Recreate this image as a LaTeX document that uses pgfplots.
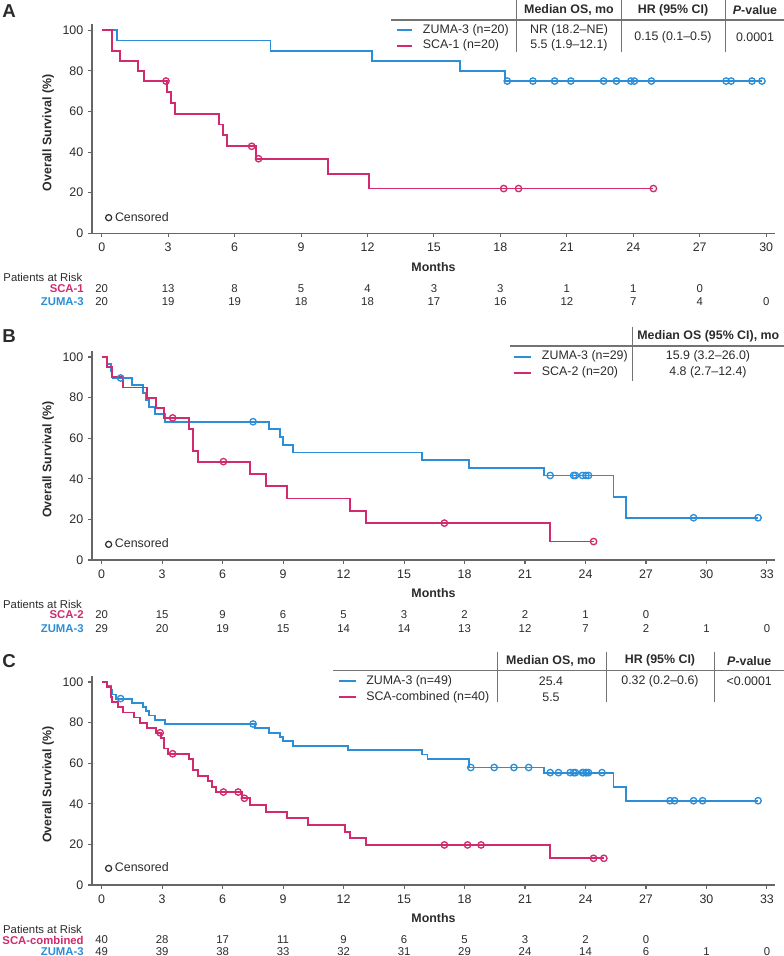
\documentclass[border=0pt]{standalone}
\usepackage{fontspec}
\setmainfont{Liberation Sans}
\usepackage{pgfplots}
\pgfplotsset{compat=1.18}
\definecolor{zblue}{HTML}{2C8ED6}
\definecolor{spink}{HTML}{D12A6E}
\definecolor{txt}{HTML}{2B2B2B}
\newcommand\fs{\fontsize{9.3pt}{11pt}\selectfont}
\newcommand\fr{\fontsize{8.5pt}{10pt}\selectfont}

\tikzset{
  rlab/.style={anchor=east, inner sep=0pt, font=\fr\bfseries},
  par/.style={anchor=west, inner sep=0pt, font=\fr, text=txt},
}
\pgfplotsset{
  km/.style={
    scale only axis, width=512.25pt, height=156.8pt,
    ymin=0, ymax=103, ytick={0,20,...,100},
    axis lines*=left, axis line style={-, black!60, line width=1pt},
    tick align=outside, tick style={black!60, line width=0.8pt},
    major tick length=3pt,
    tick label style={font=\fs, text=txt},
    xticklabel style={yshift=-0.75pt},
    /pgf/number format/assume math mode=true,
    clip=false,
    ylabel={Overall Survival (\%)},
    ylabel style={at={(axis description cs:-0.049,0.48)}, anchor=south, font=\fs\bfseries, text=txt},
    xlabel={Months},
    xlabel style={at={(axis description cs:0.5,-0.160)}, anchor=center, font=\fs\bfseries, text=txt},
    legend style={draw=none, fill=none, font=\fs, text=txt, inner sep=0pt, anchor=west},
    legend image code/.code={\draw[txt, line width=0.9pt] (0pt,0pt) circle (2.3pt);},
  },
  surv/.style={const plot, line width=1.4pt, mark=none},
  cens/.style={only marks, mark=o, mark size=2.4pt, mark options={line width=1pt}},
  risk/.style={draw=none, mark=none, forget plot, nodes near coords,
    point meta=explicit symbolic,
    nodes near coords style={anchor=center, inner sep=0pt, font=\fr, text=txt}},
}

\begin{document}
\begin{tikzpicture}[x=0.75pt, y=0.75pt]
\path[use as bounding box] (0,0) rectangle (784,956);
\coordinate (pA) at (92,722.7);
\coordinate (pB) at (92,396);
\coordinate (pC) at (92,71);

% ---------------- Panel A ----------------
\begin{axis}[km, at={(pA)}, anchor=south west,
  xmin=-0.44, xmax=30.4, xtick={0,3,...,30},
  legend style={at={(axis cs:0.135,7.7)}}]
\addlegendimage{}
\addlegendentry{Censored}
% ZUMA-3
\addplot[surv, zblue] coordinates {
  (0,100) (0.70,95) (7.62,90) (12.22,85) (16.16,80) (18.2,75) (29.81,75)};
\addplot[cens, zblue] coordinates {
  (18.31,75) (19.47,75) (20.45,75) (21.18,75) (22.66,75) (23.24,75)
  (23.89,75) (24.05,75) (24.82,75) (28.19,75) (28.42,75) (29.36,75) (29.81,75)};
% SCA-1
\addplot[surv, spink] coordinates {
  (0,100) (0.48,90) (0.83,85) (1.62,80) (1.92,75) (2.93,69.64) (3.11,64.29)
  (3.31,58.93) (5.29,53.57) (5.47,48.21) (5.65,42.86) (6.96,36.73)
  (10.22,29.39) (12.06,22.04) (24.91,22.04)};
\addplot[cens, spink] coordinates {
  (2.90,75) (6.77,42.86) (7.08,36.73) (18.15,22.04) (18.82,22.04) (24.91,22.04)};
% patients at risk
\addplot[risk] coordinates {
  (0,-27.1)[20] (3,-27.1)[13] (6,-27.1)[8] (9,-27.1)[5] (12,-27.1)[4]
  (15,-27.1)[3] (18,-27.1)[3] (21,-27.1)[1] (24,-27.1)[1] (27,-27.1)[0]};
\addplot[risk] coordinates {
  (0,-33.8)[20] (3,-33.8)[19] (6,-33.8)[19] (9,-33.8)[18] (12,-33.8)[18] (15,-33.8)[17]
  (18,-33.8)[16] (21,-33.8)[12] (24,-33.8)[7] (27,-33.8)[4] (30,-33.8)[0]};
\node[par] at (axis cs:-4.45,-21.7) {Patients at Risk};
\node[rlab, text=spink] at (axis cs:-0.80,-27.1) {SCA-1};
\node[rlab, text=zblue] at (axis cs:-0.80,-33.8) {ZUMA-3};
\end{axis}

% ---------------- Panel B ----------------
\begin{axis}[km, at={(pB)}, anchor=south west,
  xmin=-0.48, xmax=33.4, xtick={0,3,...,33},
  legend style={at={(axis cs:0.15,7.7)}}]
\addlegendimage{}
\addlegendentry{Censored}
% ZUMA-3
\addplot[surv, zblue] coordinates {
  (0,100) (0.28,96.55) (0.46,93.10) (0.54,89.66) (1.52,86.07) (2.03,82.48)
  (2.20,78.90) (2.36,75.31) (2.65,71.72) (3.16,68.14) (8.32,64.35)
  (8.85,60.56) (8.98,56.78) (9.51,52.99) (15.88,49.21) (18.23,45.42)
  (21.95,41.64) (25.39,31.23) (26.0,20.82) (32.56,20.82)};
\addplot[cens, zblue] coordinates {
  (0.94,89.66) (7.51,68.14) (22.25,41.64) (23.41,41.64) (23.5,41.64)
  (23.85,41.64) (24.02,41.64) (24.15,41.64) (29.36,20.82) (32.56,20.82)};
% SCA-2
\addplot[surv, spink] coordinates {
  (0,100) (0.28,95) (0.53,90) (1.04,85) (2.23,80) (2.69,75) (3.11,70)
  (4.35,64.62) (4.52,53.85) (4.76,48.46) (7.36,42.40) (8.15,36.35)
  (9.21,30.29) (12.32,24.23) (13.12,18.17) (22.25,9.09) (24.4,9.09)};
\addplot[cens, spink] coordinates {
  (3.52,70) (6.04,48.46) (17.0,18.17) (24.4,9.09)};
\addplot[risk] coordinates {
  (0,-27.1)[20] (3,-27.1)[15] (6,-27.1)[9] (9,-27.1)[6] (12,-27.1)[5]
  (15,-27.1)[3] (18,-27.1)[2] (21,-27.1)[2] (24,-27.1)[1] (27,-27.1)[0]};
\addplot[risk] coordinates {
  (0,-33.8)[29] (3,-33.8)[20] (6,-33.8)[19] (9,-33.8)[15] (12,-33.8)[14] (15,-33.8)[14]
  (18,-33.8)[13] (21,-33.8)[12] (24,-33.8)[7] (27,-33.8)[2] (30,-33.8)[1] (33,-33.8)[0]};
\node[par] at (axis cs:-4.90,-21.7) {Patients at Risk};
\node[rlab, text=spink] at (axis cs:-0.88,-27.1) {SCA-2};
\node[rlab, text=zblue] at (axis cs:-0.88,-33.8) {ZUMA-3};
\end{axis}

% ---------------- Panel C ----------------
\begin{axis}[km, at={(pC)}, anchor=south west,
  xmin=-0.48, xmax=33.4, xtick={0,3,...,33},
  legend style={at={(axis cs:0.15,8.2)}}]
\addlegendimage{}
\addlegendentry{Censored}
% ZUMA-3 (n=49)
\addplot[surv, zblue] coordinates {
  (0,100) (0.28,97.96) (0.46,95.92) (0.54,93.88) (0.70,91.84) (1.52,89.75)
  (2.03,87.66) (2.20,85.58) (2.36,83.49) (2.65,81.40) (3.16,79.32)
  (7.62,77.17) (8.32,75.03) (8.85,72.88) (8.98,70.74) (9.51,68.60)
  (12.22,66.45) (15.88,64.31) (16.16,62.17) (18.20,60.02) (18.23,57.88)
  (21.95,55.36) (25.39,48.44) (26.0,41.52) (32.56,41.52)};
\addplot[cens, zblue] coordinates {
  (0.94,91.84) (7.51,79.32) (18.31,57.88) (19.47,57.88) (20.45,57.88)
  (21.18,57.88) (22.25,55.36) (22.66,55.36) (23.24,55.36) (23.41,55.36)
  (23.5,55.36) (23.85,55.36) (23.89,55.36) (24.02,55.36) (24.05,55.36)
  (24.15,55.36) (24.82,55.36) (28.19,41.52) (28.42,41.52) (29.36,41.52)
  (29.81,41.52) (32.56,41.52)};
% SCA-combined (n=40)
\addplot[surv, spink] coordinates {
  (0,100) (0.28,97.5) (0.48,92.5) (0.53,90) (0.83,87.5) (1.04,85) (1.62,82.5)
  (1.92,80) (2.23,77.5) (2.69,75) (2.93,72.41) (3.11,67.24) (3.31,64.66)
  (4.35,61.96) (4.52,56.57) (4.76,53.88) (5.29,51.19) (5.47,48.49)
  (5.65,45.80) (6.96,42.74) (7.36,39.46) (8.15,36.17) (9.21,32.88)
  (10.22,29.59) (12.06,26.30) (12.32,23.02) (13.12,19.73) (22.25,13.15)
  (24.91,13.15)};
\addplot[cens, spink] coordinates {
  (2.90,75) (3.52,64.66) (6.04,45.80) (6.77,45.80) (7.08,42.74) (17.0,19.73)
  (18.15,19.73) (18.82,19.73) (24.4,13.15) (24.91,13.15)};
\addplot[risk] coordinates {
  (0,-27.1)[40] (3,-27.1)[28] (6,-27.1)[17] (9,-27.1)[11] (12,-27.1)[9]
  (15,-27.1)[6] (18,-27.1)[5] (21,-27.1)[3] (24,-27.1)[2] (27,-27.1)[0]};
\addplot[risk] coordinates {
  (0,-32.6)[49] (3,-32.6)[39] (6,-32.6)[38] (9,-32.6)[33] (12,-32.6)[32] (15,-32.6)[31]
  (18,-32.6)[29] (21,-32.6)[24] (24,-32.6)[14] (27,-32.6)[6] (30,-32.6)[1] (33,-32.6)[0]};
\node[par] at (axis cs:-4.90,-21.7) {Patients at Risk};
\node[rlab, text=spink] at (axis cs:-0.88,-27.1) {SCA-combined};
\node[rlab, text=zblue] at (axis cs:-0.88,-32.6) {ZUMA-3};
\end{axis}

\begin{scope}[shift={(0,956)}, y=-0.75pt]
% ---------------- panel letters ----------------
\foreach \L/\y in {A/11, B/336, C/661}
  \node[anchor=west, inner sep=0pt, font=\fontsize{14pt}{16pt}\selectfont\bfseries, text=txt] at (2,\y) {\L};

% ---------------- tables ----------------
\tikzset{rule/.style={black!55, line width=1.1pt}, hd/.style={font=\fs\bfseries, text=txt, inner sep=0pt}, tx/.style={font=\fs, text=txt, inner sep=0pt}}
% A
\draw[rule] (391,20) -- (784,20);
\draw[rule, line width=0.9pt] (516.7,0) -- (516.7,51.7) (621.3,0) -- (621.3,51.7) (725.3,0) -- (725.3,51.7);
\node[hd] at (569,10) {Median OS, mo};
\node[hd] at (673,10) {HR (95\% CI)};
\node[hd] at (755,10) {\textit{P}-value};
\draw[zblue, line width=1.4pt] (396.7,30) -- (412.3,30);
\draw[spink, line width=1.4pt] (396.7,45.7) -- (412.3,45.7);
\node[tx, anchor=west] at (422.7,30) {ZUMA-3 (n=20)};
\node[tx, anchor=west] at (422.7,45.7) {SCA-1 (n=20)};
\node[tx] at (569,30) {NR (18.2–NE)};
\node[tx] at (569,45.7) {5.5 (1.9–12.1)};
\node[tx] at (673,37) {0.15 (0.1–0.5)};
\node[tx] at (755,37) {0.0001};
% B
\draw[rule] (510,346) -- (784,346);
\draw[rule, line width=0.9pt] (632.3,326.7) -- (632.3,381);
\node[hd] at (708.3,336) {Median OS (95\% CI), mo};
\draw[zblue, line width=1.4pt] (514.3,356.7) -- (531,356.7);
\draw[spink, line width=1.4pt] (514.3,372.7) -- (531,372.7);
\node[tx, anchor=west] at (541.7,356.7) {ZUMA-3 (n=29)};
\node[tx, anchor=west] at (541.7,372.7) {SCA-2 (n=20)};
\node[tx] at (708,356.7) {15.9 (3.2–26.0)};
\node[tx] at (708,372.7) {4.8 (2.7–12.4)};
% C
\draw[rule] (333,670.7) -- (784,670.7);
\draw[rule, line width=0.9pt] (497.7,651.7) -- (497.7,701.7) (606.7,651.7) -- (606.7,701.7) (714.3,651.7) -- (714.3,701.7);
\node[hd] at (551,660.7) {Median OS, mo};
\node[hd] at (660,660.7) {HR (95\% CI)};
\node[hd] at (749.3,660.7) {\textit{P}-value};
\draw[zblue, line width=1.4pt] (339.3,681) -- (356,681);
\draw[spink, line width=1.4pt] (339.3,697.3) -- (356,697.3);
\node[tx, anchor=west] at (366,681) {ZUMA-3 (n=49)};
\node[tx, anchor=west] at (366,697.3) {SCA-combined (n=40)};
\node[tx] at (551,681) {25.4};
\node[tx] at (551,697.3) {5.5};
\node[tx] at (660,681) {0.32 (0.2–0.6)};
\node[tx] at (749.3,681) {<0.0001};
\end{scope}
\end{tikzpicture}
\end{document}
